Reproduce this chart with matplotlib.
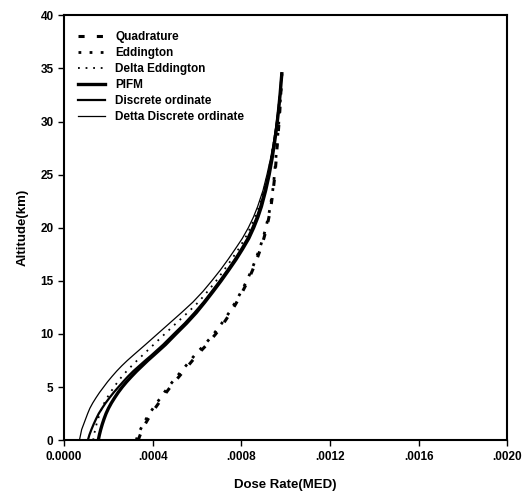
import numpy as np
import matplotlib
matplotlib.use("Agg")
import matplotlib.pyplot as plt

plt.rcParams['font.family'] = ['Liberation Sans', 'DejaVu Sans']
plt.rcParams['font.weight'] = 'bold'

# Altitude grid (km) shared by every series
altitude = [0, 0.5, 1, 1.5, 2, 2.5, 3, 3.5, 4, 4.5, 5, 5.5, 6, 6.5, 7, 7.5, 8, 9, 10,
            11, 12, 13, 14, 15, 16, 17, 18, 19, 20, 21, 22, 23.5, 25, 26.5, 28, 29.5,
            31, 32.5, 34.5]

# Dose rates (MED)
quadrature = [0.000335, 0.000344, 0.000354, 0.000366, 0.000380, 0.000395, 0.000411,
              0.000428, 0.000445, 0.000462, 0.000480, 0.000500, 0.000520, 0.000540,
              0.000560, 0.000580, 0.000600, 0.000645, 0.000685, 0.000720, 0.000752,
              0.000780, 0.000806, 0.000830, 0.000851, 0.000870, 0.000887, 0.000902,
              0.000915, 0.000925, 0.000934, 0.000944, 0.000952, 0.000958, 0.000963,
              0.000969, 0.000974, 0.000978, 0.000983]
eddington = [0.000326, 0.000334, 0.000345, 0.000357, 0.000371, 0.000386, 0.000402,
             0.000419, 0.000436, 0.000453, 0.000471, 0.000490, 0.000510, 0.000530,
             0.000550, 0.000570, 0.000590, 0.000635, 0.000676, 0.000712, 0.000745,
             0.000774, 0.000800, 0.000825, 0.000846, 0.000865, 0.000882, 0.000898,
             0.000911, 0.000922, 0.000931, 0.000942, 0.000950, 0.000956, 0.000962,
             0.000968, 0.000973, 0.000978, 0.000983]
delta_eddington = [0.000132, 0.000136, 0.000141, 0.000147, 0.000154, 0.000162, 0.000171,
                   0.000182, 0.000195, 0.000210, 0.000226, 0.000243, 0.000262, 0.000283,
                   0.000306, 0.000330, 0.000355, 0.000405, 0.000455, 0.000506, 0.000558,
                   0.000607, 0.000648, 0.000687, 0.000722, 0.000756, 0.000788, 0.000817,
                   0.000841, 0.000862, 0.000880, 0.000902, 0.000919, 0.000934, 0.000946,
                   0.000957, 0.000966, 0.000974, 0.000982]
pifm = [0.000155, 0.000160, 0.000166, 0.000173, 0.000181, 0.000190, 0.000201,
        0.000214, 0.000229, 0.000245, 0.000263, 0.000283, 0.000305, 0.000328,
        0.000353, 0.000378, 0.000405, 0.000458, 0.000505, 0.000553, 0.000597,
        0.000636, 0.000673, 0.000709, 0.000743, 0.000776, 0.000806, 0.000834,
        0.000856, 0.000875, 0.000891, 0.000910, 0.000926, 0.000939, 0.000950,
        0.000960, 0.000968, 0.000975, 0.000983]
discrete_ord = [0.000108, 0.000115, 0.000124, 0.000134, 0.000145, 0.000157, 0.000172,
                0.000188, 0.000206, 0.000225, 0.000246, 0.000267, 0.000289, 0.000313,
                0.000340, 0.000367, 0.000395, 0.000448, 0.000496, 0.000545, 0.000589,
                0.000630, 0.000667, 0.000703, 0.000737, 0.000770, 0.000800, 0.000828,
                0.000850, 0.000870, 0.000886, 0.000906, 0.000922, 0.000936, 0.000948,
                0.000958, 0.000967, 0.000975, 0.000982]
delta_discrete = [0.000070, 0.000075, 0.000080, 0.000089, 0.000098, 0.000107, 0.000117,
                  0.000130, 0.000145, 0.000161, 0.000179, 0.000197, 0.000217, 0.000238,
                  0.000261, 0.000286, 0.000313, 0.000368, 0.000422, 0.000476, 0.000530,
                  0.000582, 0.000627, 0.000667, 0.000705, 0.000740, 0.000773, 0.000805,
                  0.000832, 0.000855, 0.000874, 0.000898, 0.000916, 0.000932, 0.000945,
                  0.000956, 0.000966, 0.000974, 0.000982]

xticks = [0.0, 0.0004, 0.0008, 0.0012, 0.0016, 0.0020]
xtick_labels = ['0.0000', '.0004', '.0008', '.0012', '.0016', '.0020']
yticks = [0, 5, 10, 15, 20, 25, 30, 35, 40]

fig = plt.figure(figsize=(5.24, 4.94), dpi=100)
ax = fig.add_axes([0.122, 0.109, 0.846, 0.86])

ax.plot(quadrature, altitude, color='black', lw=2.2, dashes=(2, 4), label='Quadrature')
ax.plot(eddington, altitude, color='black', lw=2.0, dashes=(1, 3), label='Eddington')
ax.plot(delta_eddington, altitude, color='black', lw=1.3, dashes=(1, 3.2), label='Delta Eddington')
ax.plot(pifm, altitude, color='black', lw=2.4, label='PIFM')
ax.plot(discrete_ord, altitude, color='black', lw=1.6, label='Discrete ordinate')
ax.plot(delta_discrete, altitude, color='black', lw=0.9, label='Detta Discrete ordinate')

ax.set_xlim(0, 0.002)
ax.set_ylim(0, 40)
ax.set_xticks(xticks)
ax.set_xticklabels(xtick_labels)
ax.set_yticks(yticks)
ax.tick_params(axis='both', direction='out', length=4, width=1, labelsize=8.5)
for lab in ax.get_xticklabels() + ax.get_yticklabels():
    lab.set_fontweight('bold')
for sp in ax.spines.values():
    sp.set_linewidth(1.5)

ax.set_xlabel('Dose Rate(MED)', fontsize=9.5, fontweight='bold', labelpad=12)
ax.set_ylabel('Altitude(km)', fontsize=9.5, fontweight='bold', labelpad=8)

leg = ax.legend(loc='upper left', bbox_to_anchor=(0.02, 0.975), frameon=False,
                fontsize=8.5, handlelength=2.3, handletextpad=0.9, labelspacing=0.35,
                borderaxespad=0)
for t in leg.get_texts():
    t.set_fontweight('bold')

fig.savefig('out.png', dpi=100)
